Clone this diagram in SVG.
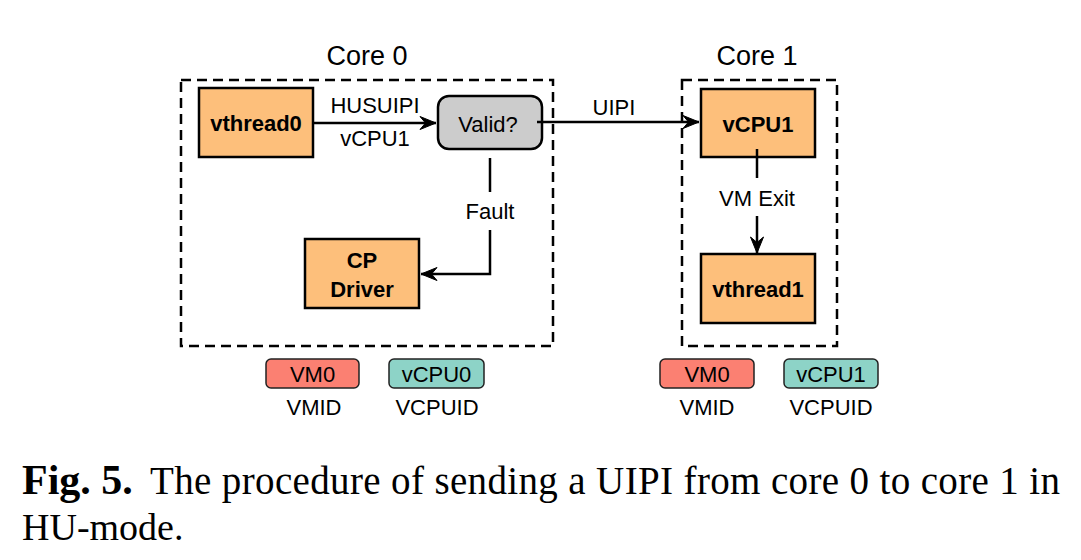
<svg xmlns="http://www.w3.org/2000/svg" width="1081" height="560" viewBox="0 0 1081 560">
<style>
.t{font-family:"Liberation Sans",Arial,Helvetica,sans-serif;font-size:22px;fill:#000;text-anchor:middle}
.b{font-weight:bold}
.core{font-size:27px}
.dash{fill:none;stroke:#000;stroke-width:2.5;stroke-dasharray:10 6}
.box{fill:#fdbf7b;stroke:#000;stroke-width:2.5}
.gray{fill:#cccccc;stroke:#000;stroke-width:2.5}
.vm{fill:#fb8072;stroke:#222;stroke-width:1.5}
.vc{fill:#8dd3c7;stroke:#222;stroke-width:1.5}
.ln{fill:none;stroke:#000;stroke-width:2.5}
.cap{font-family:"Liberation Serif","Times New Roman",Times,serif;fill:#000}
</style>
<defs>
<marker id="arr" viewBox="-17 -8 19 16" refX="0" refY="0" markerWidth="19" markerHeight="16" markerUnits="userSpaceOnUse" orient="auto">
<path d="M0,0 L-16,-6.5 L-10.5,0 L-16,6.5 Z" fill="#000" stroke="#000" stroke-width="1" stroke-linejoin="miter"/>
</marker>
</defs>
<rect width="1081" height="560" fill="#fff"/>

<g id="core0">
<rect class="dash" x="181" y="80" width="372" height="266"/>
<text class="t core" x="367" y="65">Core 0</text>
</g>
<g id="core1">
<rect class="dash" x="682" y="80" width="155" height="266"/>
<text class="t core" x="757" y="65">Core 1</text>
</g>

<g id="vthread0">
<rect class="box" x="199" y="88" width="114" height="69"/>
<text class="t b" x="256" y="131">vthread0</text>
</g>
<g id="valid">
<rect class="gray" x="438" y="96" width="104" height="53" rx="11"/>
<text class="t" x="488" y="132">Valid?</text>
</g>
<g id="cpdriver">
<rect class="box" x="305" y="239" width="114" height="69"/>
<text class="t b" x="362" y="268">CP</text>
<text class="t b" x="362" y="297">Driver</text>
</g>
<g id="vcpu1">
<rect class="box" x="701" y="89" width="114" height="68"/>
<text class="t b" x="758" y="132">vCPU1</text>
</g>
<g id="vthread1">
<rect class="box" x="701" y="254" width="114" height="69"/>
<text class="t b" x="758" y="297">vthread1</text>
</g>

<g id="connectors">
<path class="ln" d="M313,123 H436" marker-end="url(#arr)"/>
<text class="t" x="375" y="113">HUSUIPI</text>
<text class="t" x="375" y="146">vCPU1</text>
<path class="ln" d="M537,122 H699" marker-end="url(#arr)"/>
<text class="t" x="614" y="115">UIPI</text>
<path class="ln" d="M490,158 V192"/>
<path class="ln" d="M490,230 V274 H421" marker-end="url(#arr)"/>
<text class="t" x="490" y="219">Fault</text>
<path class="ln" d="M757,149 V178"/>
<path class="ln" d="M757,216 V253" marker-end="url(#arr)"/>
<text class="t" x="757" y="206">VM Exit</text>
</g>

<g id="vmid0">
<rect class="vm" x="266" y="359" width="93" height="29" rx="5"/>
<text class="t" x="312.5" y="382">VM0</text>
<text class="t" x="314" y="415">VMID</text>
</g>
<g id="vcpuid0">
<rect class="vc" x="389" y="359" width="95" height="29" rx="5"/>
<text class="t" x="436.5" y="382">vCPU0</text>
<text class="t" x="437" y="415">VCPUID</text>
</g>
<g id="vmid1">
<rect class="vm" x="660" y="359" width="94" height="29" rx="5"/>
<text class="t" x="707" y="382">VM0</text>
<text class="t" x="707" y="415">VMID</text>
</g>
<g id="vcpuid1">
<rect class="vc" x="784" y="359" width="94" height="29" rx="5"/>
<text class="t" x="831" y="382">vCPU1</text>
<text class="t" x="831" y="415">VCPUID</text>
</g>

<g id="caption">
<text class="cap" x="22" y="494" font-size="42" font-weight="bold">Fig. 5.</text>
<text class="cap" x="150" y="494" font-size="39" textLength="910" lengthAdjust="spacing">The procedure of sending a UIPI from core 0 to core 1 in</text>
<text class="cap" x="22" y="540" font-size="38">HU-mode.</text>
</g>
</svg>
